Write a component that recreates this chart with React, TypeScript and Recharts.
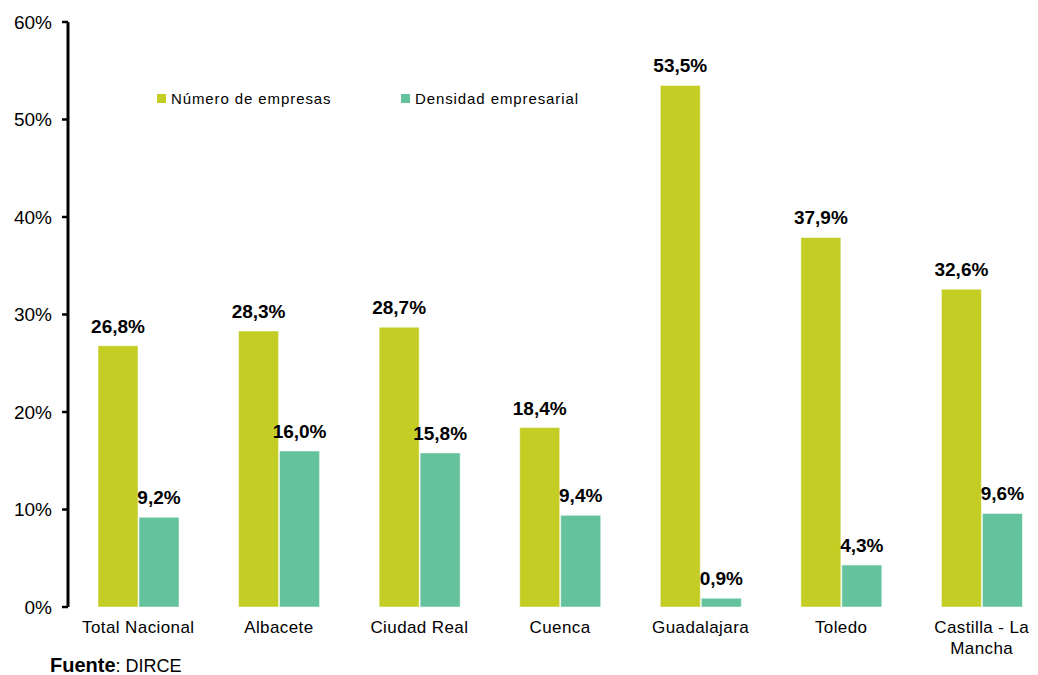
import React from 'react';
import { BarChart, Bar, XAxis, YAxis, LabelList, Text } from 'recharts';

const categories = ['Total Nacional', 'Albacete', 'Ciudad Real', 'Cuenca', 'Guadalajara', 'Toledo', 'Castilla - La Mancha'];
const numeroEmpresas = [26.8, 28.3, 28.7, 18.4, 53.5, 37.9, 32.6];
const densidadEmpresarial = [9.2, 16.0, 15.8, 9.4, 0.9, 4.3, 9.6];
const yTicks = [0, 10, 20, 30, 40, 50, 60];

const GREEN = '#C3CD23';
const TEAL = '#64C39D';
const FONT = '"Liberation Sans", Arial, sans-serif';

const data = categories.map((name, i) => ({
  name,
  numero: numeroEmpresas[i],
  densidad: densidadEmpresarial[i],
}));

const seriesInfo = [
  { label: 'Número de empresas', color: GREEN, left: 157 },
  { label: 'Densidad empresarial', color: TEAL, left: 401 },
];

const fmt = (v: number) => v.toFixed(1).replace('.', ',') + '%';

const CategoryTick = (props: any) => {
  const { x, y, payload } = props;
  return (
    <Text
      x={x}
      y={y}
      width={130}
      textAnchor="middle"
      verticalAnchor="start"
      fontSize={17}
      fill="#000"
      lineHeight={21}
      style={{ fontFamily: FONT, letterSpacing: 0.4 }}
    >
      {payload.value}
    </Text>
  );
};

export default function App() {
  return (
    <div style={{ position: 'absolute', left: 0, top: 0, width: 1038, height: 675, overflow: 'hidden', background: '#fff' }}>
      <BarChart
        width={1052}
        height={675}
        data={data}
        margin={{ top: 22, right: 0, left: 0, bottom: 38 }}
        barGap={1}
        barSize={40}
        style={{ fontFamily: FONT }}
      >
        <XAxis dataKey="name" height={30} axisLine={false} tickLine={false} tick={<CategoryTick />} interval={0} tickMargin={8} />
        <YAxis
          width={68}
          domain={[0, 60]}
          ticks={yTicks}
          tickFormatter={(v: number) => `${v}%`}
          axisLine={{ stroke: '#000', strokeWidth: 3 }}
          tickLine={{ stroke: '#000', strokeWidth: 2.5 }}
          tickSize={6}
          tickMargin={10}
          tick={{ fill: '#000', fontSize: 19, fontFamily: FONT }}
        />
        <Bar dataKey="numero" name="Número de empresas" fill={GREEN} stroke="#fff" strokeWidth={0.5} isAnimationActive={false}>
          <LabelList dataKey="numero" position="top" offset={13} formatter={(v: any) => fmt(Number(v))} style={{ fill: '#000', fontSize: 19, fontWeight: 'bold', fontFamily: FONT }} />
        </Bar>
        <Bar dataKey="densidad" name="Densidad empresarial" fill={TEAL} stroke="#fff" strokeWidth={0.5} isAnimationActive={false}>
          <LabelList dataKey="densidad" position="top" offset={13} formatter={(v: any) => fmt(Number(v))} style={{ fill: '#000', fontSize: 19, fontWeight: 'bold', fontFamily: FONT }} />
        </Bar>
      </BarChart>
      {seriesInfo.map((item) => (
        <div
          key={item.label}
          style={{ position: 'absolute', left: item.left, top: 90, display: 'flex', alignItems: 'center', whiteSpace: 'nowrap', fontFamily: FONT, fontSize: 15, letterSpacing: 0.9, color: '#000' }}
        >
          <span style={{ display: 'inline-block', width: 9, height: 9, background: item.color, marginRight: 5 }} />
          <span>{item.label}</span>
        </div>
      ))}
      <div style={{ position: 'absolute', left: 50, top: 654, fontFamily: FONT, fontSize: 18, color: '#000', whiteSpace: 'nowrap' }}>
        <b style={{ fontSize: 20 }}>Fuente</b>: DIRCE
      </div>
    </div>
  );
}
